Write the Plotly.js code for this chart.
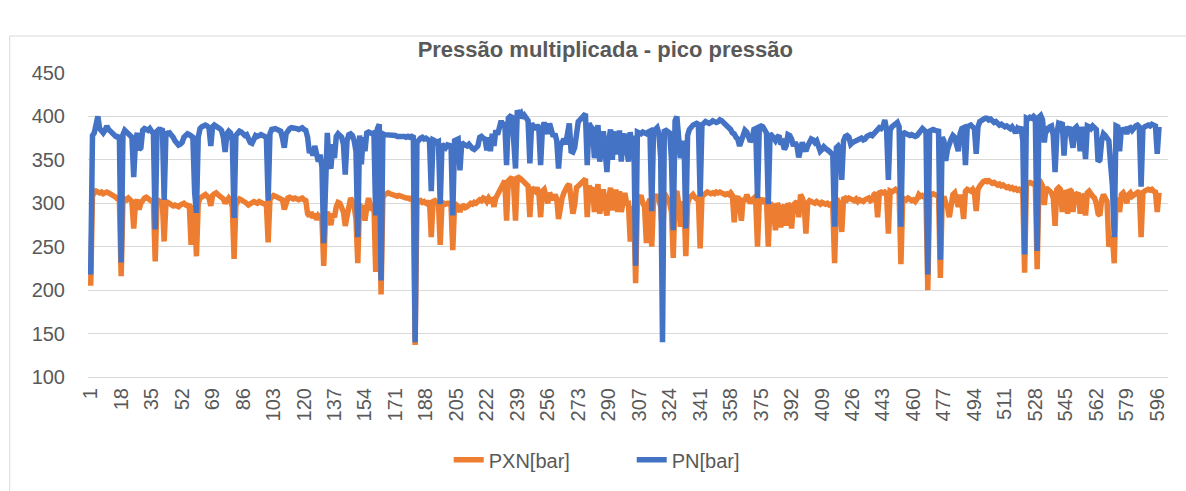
<!DOCTYPE html>
<html>
<head>
<meta charset="utf-8">
<script src="https://cdn.plot.ly/plotly-3.0.1.min.js"></script>
<style>
  html, body { margin: 0; padding: 0; background: #ffffff; }
  #chart { width: 1186px; height: 491px; }
</style>
</head>
<body>
<div id="chart"></div>
<script>
// ---- Data ----
const chartTitle = "Pressão multiplicada - pico pressão";
const seriesNames = ["PXN[bar]", "PN[bar]"];

const PXN = [
205,309,312,314,313,312,313,311,312,313,
312,311,310,309,307,305,304,216,303,305,
304,306,303,302,271,300,304,293,300,305,
306,307,305,304,303,301,233,302,303,301,
300,256,302,301,300,298,297,298,297,296,
298,299,300,298,297,299,252,298,288,239,
300,306,308,309,310,308,306,297,309,311,
312,310,308,306,305,300,304,306,303,296,
236,298,302,305,304,303,302,300,298,299,
300,302,301,300,302,301,300,299,300,255,
305,308,309,308,307,306,305,304,293,303,
306,307,306,305,306,305,304,305,306,304,
303,288,285,290,283,288,281,286,284,282,
228,284,290,280,275,288,284,296,301,300,
294,290,274,288,300,306,302,296,282,231,
300,285,298,280,295,306,298,292,300,221,
302,308,195,306,310,311,312,311,310,310,
309,308,309,308,307,307,306,306,305,306,
305,137,300,302,303,301,302,300,299,303,
261,302,303,301,300,252,301,300,299,300,
300,298,246,300,298,296,290,296,297,295,
296,298,300,299,301,300,302,304,303,306,
305,302,306,303,304,296,306,310,315,320,
322,326,280,326,328,330,318,280,331,330,
328,326,324,322,320,284,318,316,314,318,
312,284,314,316,310,300,312,308,304,310,
305,282,300,306,312,318,320,322,300,288,
298,318,320,322,324,326,328,284,320,316,
318,290,310,322,288,305,316,296,286,306,
318,292,306,316,290,314,290,305,312,300,
300,256,292,296,208,302,306,309,300,296,
254,300,305,250,305,306,310,302,296,262,
306,308,304,300,290,237,310,314,300,273,
296,302,239,300,306,308,310,307,305,306,
248,308,310,312,313,312,311,312,311,313,
312,313,312,311,310,311,310,312,309,278,
304,308,300,280,306,302,310,305,300,304,
306,302,250,303,306,300,302,305,250,300,
298,290,269,300,296,272,294,298,274,300,
296,271,298,300,302,284,310,306,300,265,
300,303,302,301,300,302,300,299,301,300,
299,300,298,299,297,231,300,302,298,267,
305,306,304,306,305,304,303,305,302,304,
303,302,304,305,306,303,304,310,312,284,
312,313,312,313,311,265,314,313,315,316,
314,312,230,306,305,304,306,305,303,304,
302,305,310,308,309,307,306,200,308,310,
311,310,309,310,214,302,308,300,296,284,
305,310,312,306,296,310,300,282,314,316,
315,314,316,312,291,316,320,324,325,326,
325,326,324,323,324,322,321,322,320,321,
319,318,319,317,318,316,317,315,316,314,
312,220,322,323,324,323,322,321,224,322,
324,320,298,318,316,314,312,306,274,316,
318,316,290,314,312,288,316,314,290,312,
310,312,288,310,308,286,312,314,310,308,
306,300,288,286,304,310,306,302,250,256,
262,231,306,300,290,310,312,308,300,310,
312,308,310,312,313,314,261,312,314,315,
316,315,316,314,313,290,312
];

const PN = [
218,378,381,392,400,386,383,381,384,389,
385,383,379,378,377,376,378,232,379,384,
382,380,378,376,330,372,381,362,364,384,
386,385,384,386,383,380,270,383,385,384,
386,304,382,380,381,379,376,372,368,367,
368,370,376,379,380,379,378,376,312,289,
376,386,388,389,390,389,387,366,388,390,
389,388,386,384,376,359,380,383,381,372,
283,378,381,383,382,380,378,379,372,370,
369,373,378,377,378,379,378,377,376,303,
380,385,386,386,385,384,383,375,364,380,
385,386,387,387,386,386,385,386,387,385,
384,376,358,362,355,366,352,348,356,342,
254,350,381,346,340,368,352,377,380,378,
376,368,333,372,379,380,378,372,360,261,
378,345,376,360,381,382,381,380,381,286,
386,391,211,380,379,379,379,378,378,378,
378,377,377,378,377,377,376,377,376,377,
376,140,370,374,375,376,374,375,373,372,
314,373,372,370,371,299,368,366,364,367,
366,368,286,372,374,374,338,370,368,367,
366,368,365,363,362,364,366,376,377,375,
374,361,376,360,380,366,384,379,390,395,
388,394,344,398,400,399,372,340,407,402,
404,398,401,396,395,346,392,388,385,390,
386,344,386,393,388,380,392,384,377,380,
372,340,366,370,374,368,384,392,360,359,
364,378,394,396,398,400,403,344,392,388,
386,352,378,390,348,372,383,360,336,372,
385,350,378,382,356,384,348,375,380,362,
348,382,360,378,228,382,381,380,382,381,
380,382,383,291,384,385,387,380,352,140,
383,384,382,381,350,269,395,400,376,352,
360,372,271,378,385,388,390,391,392,391,
308,390,393,394,393,392,393,395,394,393,
394,396,395,393,391,390,387,385,381,380,
376,374,366,372,374,384,382,378,371,374,
385,386,306,388,389,388,384,381,299,380,
378,374,372,376,378,368,370,362,366,379,
378,374,366,370,366,353,362,370,364,360,
366,372,374,373,370,372,366,360,362,365,
363,362,360,358,356,273,364,366,362,327,
372,377,378,376,368,370,371,372,373,374,
375,373,374,377,378,379,378,380,384,386,
387,386,388,396,385,327,384,388,390,392,
393,388,273,380,381,380,379,378,379,378,
377,378,380,382,386,384,382,218,383,384,
385,384,383,383,235,376,372,349,362,370,
374,378,376,368,360,380,386,387,344,388,
389,390,388,386,357,388,394,396,398,398,
398,396,397,395,393,394,392,390,391,389,
388,389,387,386,388,384,381,386,384,388,
372,241,398,397,399,398,400,398,245,399,
401,396,370,388,385,388,389,378,336,380,
392,391,393,355,388,384,388,376,364,386,
388,384,360,388,378,351,389,388,386,389,
386,385,348,350,372,380,378,376,372,345,
320,261,389,388,360,386,384,385,380,386,
387,384,388,389,390,388,319,386,388,389,
390,389,391,390,389,357,388
];

// category axis: one category per sample (1, 2, 3, ...)
const categories = PN.map((_, k) => k + 1);
const tickLabels = [1,18,35,52,69,86,103,120,137,154,171,188,205,222,239,256,273,290,307,324,341,358,375,392,409,426,443,460,477,494,511,528,545,562,579,596];
const yTicks = [100,150,200,250,300,350,400,450];

// ---- Styling ----
const FONT = "'Liberation Sans', Arial, sans-serif";
const TXT = "#595959";
const GRID = "#d9d9d9";

const traces = [
  {
    x: categories, y: PXN, name: seriesNames[0], type: "scatter", mode: "lines",
    line: { color: "#ED7D31", width: 5.5 }
  },
  {
    x: categories, y: PN, name: seriesNames[1], type: "scatter", mode: "lines",
    line: { color: "#4472C4", width: 5.5 }
  }
];

const layout = {
  width: 1186, height: 491,
  margin: { l: 88, r: 18, t: 73, b: 106 },
  paper_bgcolor: "#ffffff", plot_bgcolor: "#ffffff",
  font: { family: FONT, color: TXT, size: 20 },
  title: {
    text: "<b>" + chartTitle + "</b>",
    font: { family: FONT, size: 22, color: TXT },
    x: 0.479, xanchor: "center", xref: "paper",
    y: 0.9, yref: "container", yanchor: "middle"
  },
  xaxis: {
    range: [-0.5, 602],
    tickmode: "array", tickvals: tickLabels, ticktext: tickLabels.map(String),
    tickangle: -90, tickfont: { family: FONT, size: 20, color: TXT },
    showgrid: false, zeroline: false,
    showline: true, linecolor: GRID, linewidth: 1,
    ticks: "", ticklabelstandoff: 2
  },
  yaxis: {
    range: [100, 450],
    tickmode: "array", tickvals: yTicks, ticktext: yTicks.map(String),
    tickfont: { family: FONT, size: 20, color: TXT },
    showgrid: true, gridcolor: GRID, gridwidth: 1,
    zeroline: false, showline: false, ticks: "",
    ticklabelstandoff: 22
  },
  showlegend: true,
  legend: {
    orientation: "h", x: 0.334, xanchor: "left",
    y: -0.272, yanchor: "middle",
    font: { family: FONT, size: 20, color: TXT },
    entrywidth: 138, entrywidthmode: "pixels",
    traceorder: "normal"
  },
  shapes: [
    {
      type: "rect", xref: "paper", yref: "paper",
      x0: -0.0725, x1: 1.03, y0: -0.4, y1: 1.1218,
      line: { color: GRID, width: 1 }, fillcolor: "rgba(0,0,0,0)", layer: "below"
    }
  ]
};

Plotly.newPlot("chart", traces, layout, { staticPlot: true, displayModeBar: false });
</script>
</body>
</html>
